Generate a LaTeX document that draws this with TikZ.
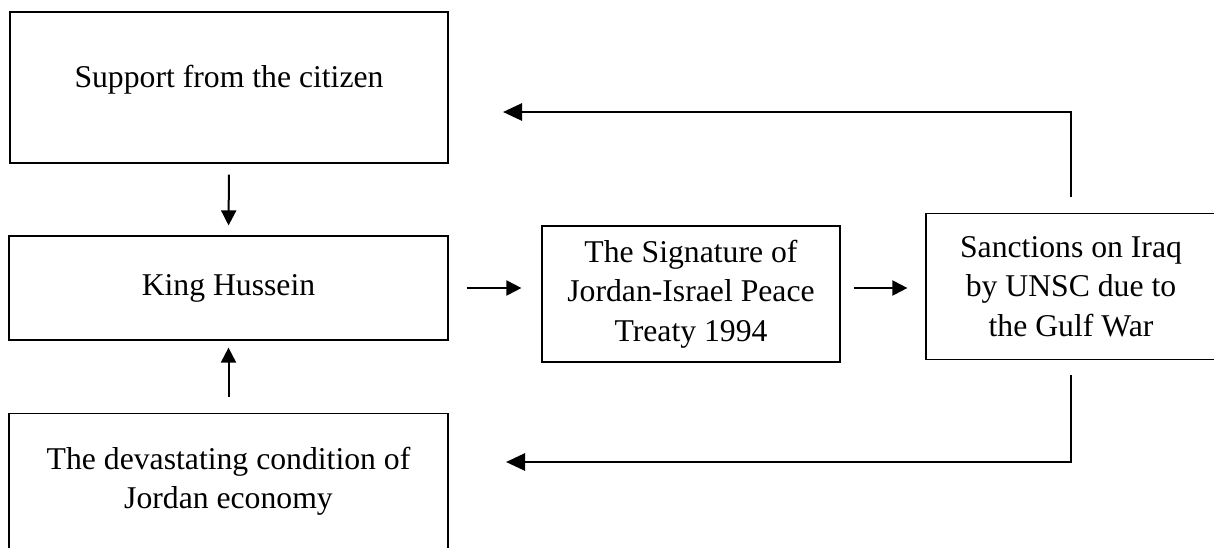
\documentclass[tikz,border=0pt]{standalone}
\usepackage{fontspec}
\setmainfont{Liberation Serif}
\usepackage{tikz}
\usetikzlibrary{arrows.meta}

\begin{document}
\begin{tikzpicture}[x=1pt,y=-1pt,
    box/.style={draw,line width=1.2pt,align=center,inner sep=0pt,
      font=\fontsize{31.7}{39.5}\selectfont},
    link/.style={line width=2pt,-{Triangle[length=15pt,width=15pt]}},
    back/.style={line width=2.8pt,-{Triangle[length=19pt,width=17pt]}}]
    \useasboundingbox (0,0) rectangle (1214,547);
    \clip (0,0) rectangle (1214,547);

    % left column
    \node[box,minimum width=438pt,minimum height=151pt,text height=22pt,text depth=22pt]
        (citizen) at (229,87.5) {Support from the citizen};
    \node[box,minimum width=439pt,minimum height=104pt]
        (king) at (228.5,288) {King Hussein};
    \node[box,anchor=north,minimum width=439pt,minimum height=135pt]
        (economy) at (228.5,413) {The devastating condition of\\Jordan economy};

    % right side
    \node[box,minimum width=298pt,minimum height=136pt]
        (treaty) at (691,294) {The Signature of\\Jordan-Israel Peace\\Treaty 1994};
    \node[box,minimum width=290pt,minimum height=146pt]
        (sanctions) at (1071,286.5) {Sanctions on Iraq\\by UNSC due to\\the Gulf War};

    \coordinate (topturn) at (sanctions.north |- 0,112);
    \coordinate (topend)  at (503,112);
    \coordinate (botturn) at (sanctions.south |- 0,462);
    \coordinate (botend)  at (506,462);

    \draw[link,shorten <=11pt,shorten >=10pt] (citizen.south) -- (king.north);
    \draw[link,shorten <=16pt,shorten >=7pt] (economy.north) -- (king.south);
    \draw[link,shorten <=18pt,shorten >=20pt] (king.east) -- (king.east -| treaty.west);
    \draw[link,shorten <=13pt,shorten >=18pt] (king.east -| treaty.east) -- (king.east -| sanctions.west);

    % feedback loops
    \draw[back,shorten <=16pt] (sanctions.north) -- (topturn) -- (topend);
    \draw[back,shorten <=15pt] (sanctions.south) -- (botturn) -- (botend);
\end{tikzpicture}
\end{document}
